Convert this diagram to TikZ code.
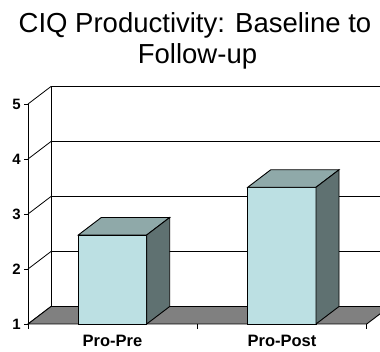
\documentclass[tikz,border=0pt]{standalone}
\usepackage{fontspec}
\setmainfont{Liberation Sans}
\definecolor{barfront}{HTML}{BCE0E3}
\definecolor{bartop}{HTML}{8FA9A9}
\definecolor{barside}{HTML}{5F7171}
\definecolor{floorc}{HTML}{808080}
\tikzset{
  line/.style={draw=black,line width=0.9pt},
  grid/.style={draw=black,line width=0.8pt},
  ylab/.style={font=\fontsize{15}{15}\selectfont\bfseries,inner sep=0pt,anchor=east},
  xlab/.style={font=\fontsize{16.5}{16.5}\selectfont\bfseries,inner sep=0pt,anchor=base},
  ttl/.style={font=\fontsize{27.5}{27.5}\selectfont,inner sep=0pt,anchor=base}
}
\newcommand\mybar[3]{% left x, right x, top y (front face)
  \pgfmathsetmacro\bxl{#1+23}\pgfmathsetmacro\bxr{#2+23}\pgfmathsetmacro\byt{#3-17.5}
  \filldraw[fill=barfront,line] (#1,324) rectangle (#2,#3);
  \filldraw[fill=bartop,line] (#1,#3) -- (\bxl,\byt) -- (\bxr,\byt) -- (#2,#3) -- cycle;
  \filldraw[fill=barside,line] (#2,#3) -- (\bxr,\byt) -- (\bxr,306.5) -- (#2,324) -- cycle;
}
\begin{document}
\begin{tikzpicture}[x=1pt,y=-1pt]
\useasboundingbox (0,0) rectangle (380,352);
\clip (0,0) rectangle (380,352);
% back wall grid
\foreach \yy in {86.5,141.5,196.5,251.5} \draw[grid] (51,\yy) -- (400,\yy);
\draw[line] (51,86.5) -- (51,306.5);
% left wall diagonals
\foreach \v in {0,...,4} \draw[grid] (28,324-55*\v) -- (51,306.5-55*\v);
% floor
\filldraw[fill=floorc,line] (28,324) -- (366.7,324) -- (389.7,306.5) -- (51,306.5) -- cycle;
% front axis
\draw[line] (28,104) -- (28,324);
\foreach \v in {0,...,4} \draw[line] (24,324-55*\v) -- (28,324-55*\v);
\foreach \xx in {28,197.3,366.7} \draw[line] (\xx,324) -- (\xx,329);
% bars
\mybar{78.3}{146.7}{235}
\mybar{247.7}{316}{187.3}
% labels
\node[ylab] (n1) at (21,324) {1};
\node[ylab] (n2) at (21,269) {2};
\node[ylab] (n3) at (21,214) {3};
\node[ylab] (n4) at (21,159) {4};
\node[ylab] (n5) at (21,104) {5};
\node[xlab] (c1) at (112.5,347) {Pro-Pre};
\node[xlab] (c2) at (282,347) {Pro-Post};
\node[ttl] (t1) at (195,33) {CIQ Productivity: Baseline to};
\node[ttl] (t2) at (197.5,64) {Follow-up};
\end{tikzpicture}
\end{document}
